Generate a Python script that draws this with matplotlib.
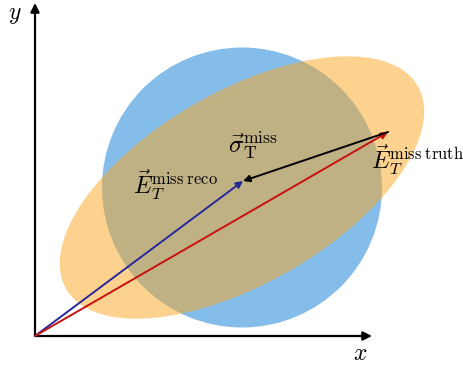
import matplotlib.pyplot as plt
from matplotlib.patches import Circle, Ellipse

plt.rcParams['mathtext.fontset'] = 'cm'
plt.rcParams['font.family'] = ['DejaVu Serif']

# geometry in plot units (origin at the axes corner, y up)
axis_len = [337, 333]
center = [207, 148.5]
radius = 140
ell_width, ell_height, ell_angle = 406, 192, 30
reco = [208, 155]
truth = [353, 204]

labels = {
    'sigma': r'$\vec{\sigma}_{\rm T}^{\rm miss}$',
    'reco': r'$\vec{E}_T^{\rm miss\;reco}$',
    'truth': r'$\vec{E}_T^{\rm miss\;truth}$',
}

fig = plt.figure(figsize=(4.63, 3.66), dpi=100)
ax = fig.add_axes([0, 0, 1, 1])
ax.set_xlim(-35, 428)
ax.set_ylim(-30, 336)
ax.set_aspect('equal')
ax.axis('off')

ax.add_patch(Circle(center, radius, facecolor='#84bde9', edgecolor='none'))
ax.add_patch(Ellipse(center, ell_width, ell_height, angle=ell_angle,
                     facecolor='#fba71f', alpha=0.5, edgecolor='none'))

def arrow(start, end, color, lw=1.4, ms=10):
    ax.annotate('', xy=end, xytext=start,
                arrowprops=dict(arrowstyle='-|>', color=color, lw=lw,
                                mutation_scale=ms, shrinkA=0, shrinkB=0))

# axes
arrow((0, 0), (axis_len[0], 0), 'black', lw=1.6, ms=13)
arrow((0, 0), (0, axis_len[1]), 'black', lw=1.6, ms=13)
ax.text(-20, 322, r'$y$', fontsize=17, ha='center', va='center')
ax.text(325, -17, r'$x$', fontsize=17, ha='center', va='center')

# vectors
arrow((0, 0), reco, '#28289a')
arrow((0, 0), truth, '#c81010')
arrow(truth, reco, 'black')

ax.text(193, 190, labels['sigma'], fontsize=18, ha='left', va='center')
ax.text(98, 151, labels['reco'], fontsize=17, ha='left', va='center')
ax.text(336, 176, labels['truth'], fontsize=17, ha='left', va='center')

fig.savefig('out.png', dpi=100)
